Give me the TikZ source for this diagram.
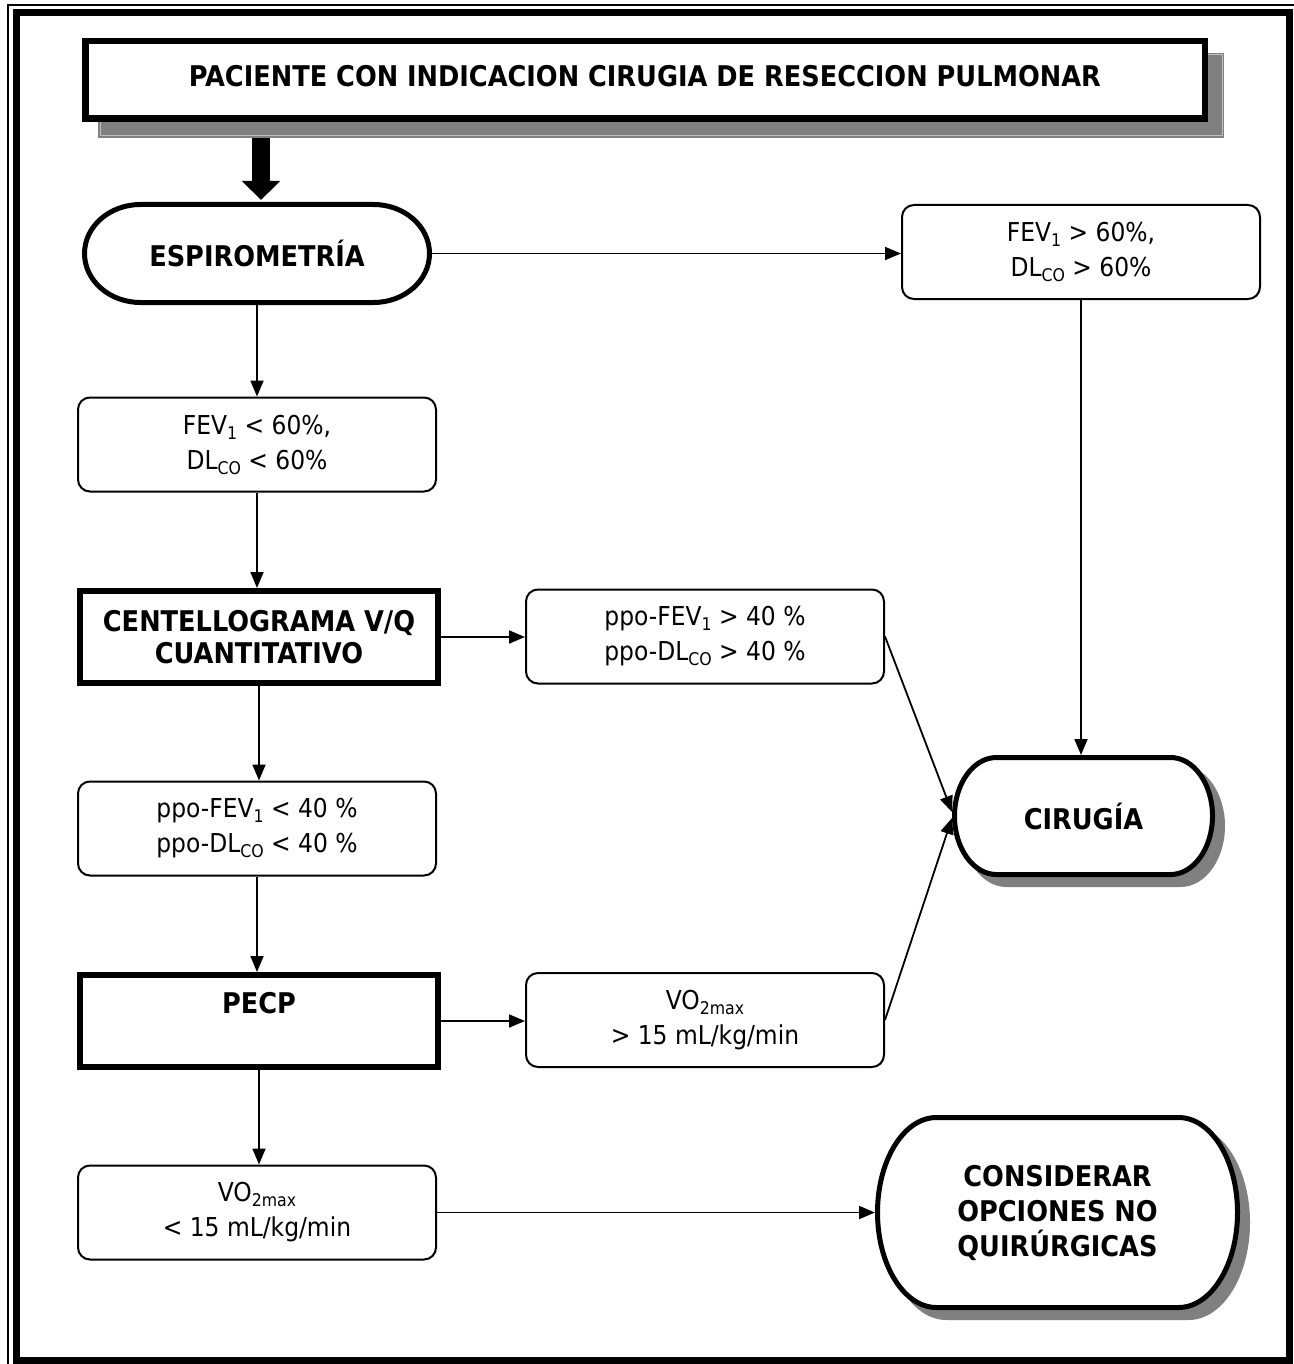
\documentclass[tikz,border=0pt]{standalone}
\usepackage{fontspec}
\setmainfont{DejaVu Sans Condensed}
\usetikzlibrary{arrows.meta}
\newcommand\sbs[1]{\raisebox{-0.35ex}{\fontsize{17.5}{17.5}\selectfont #1}}
% terminator outline: cx, cy, half width, half height, end radius (path centre values)
\newcommand\termpath[5]{(#1-#3+#5,#2-#4) -- (#1+#3-#5,#2-#4) arc[start angle=90,end angle=-90,x radius=#5pt,y radius=#4pt] -- (#1-#3+#5,#2+#4) arc[start angle=270,end angle=90,x radius=#5pt,y radius=#4pt] -- cycle}
\tikzset{
  thinbox/.style={draw, line width=2, rounded corners=12, minimum width=358, minimum height=94, align=center, fill=white, inner sep=0, font=\fontsize{26}{35}\selectfont},
  thickbox/.style={draw, line width=6, minimum width=358, minimum height=92, align=center, fill=white, inner sep=0, font=\bfseries\fontsize{28.5}{32}\selectfont},
  termtext/.style={align=center, inner sep=0, outer sep=0, font=\bfseries\fontsize{28.5}{35}\selectfont},
  termline/.style={draw=black, line width=5, fill=white},
  termshadow/.style={fill=black!50, draw=black!50, line width=5},
  conn/.style={draw, line width=1.8, -{Triangle[length=16pt,width=13pt]}},
}
\begin{document}
\begin{tikzpicture}[x=1pt,y=-1pt]
\useasboundingbox (0,0) rectangle (1293,1364);
% page frame
\draw[line width=1.5] (8,1400) -- (8,5) -- (1400,5);
\draw[line width=7.5] (16.5,12.5) rectangle (1289.5,1360.5);

% title
\node[draw=none, minimum width=1119.5, minimum height=77.5, inner sep=0] (title) at (645,80) {};
\draw[line width=18, -{Triangle[length=19pt,width=37pt]}] ([xshift=4]title.south -| 257,0) -- (261,200) coordinate (tip);
\fill[black!50] (98,53) rectangle (1224,138);
\draw[black!25, line width=1] (100,55) rectangle (1222,136);
\node[draw, line width=6.5, fill=white, minimum width=1119.5, minimum height=77.5, inner sep=0, font=\bfseries\fontsize{28.5}{32}\selectfont] (titlebox) at (645,80) {\raisebox{0pt}[\height][8pt]{PACIENTE CON INDICACION CIRUGIA DE RESECCION PULMONAR}};

% terminators
\path[termline] \termpath{257}{253.5}{172.5}{49}{56};
\node[termtext, minimum width=350, minimum height=103] (espiro) at (257,253.5) {ESPIROMETRÍA};

\path[termshadow] \termpath{1093.5}{826}{129}{58.5}{42};
\path[termline] \termpath{1083.5}{816}{129}{58.5}{42};
\node[termtext, minimum width=263, minimum height=122] (cir) at (1083.5,816) {CIRUGÍA};

\path[termshadow] \termpath{1067.5}{1222.5}{180}{95}{59};
\path[termline] \termpath{1057.5}{1212.5}{180}{95}{59};
\node[termtext, minimum width=365, minimum height=195] (cons) at (1057.5,1212.5) {CONSIDERAR\\OPCIONES NO\\QUIRÚRGICAS};

% rounded boxes
\node[thinbox] (fevG) at (1081,252) {FEV\sbs{1} > 60\%,\\DL\sbs{CO} > 60\%};
\node[thinbox] (fevL) at (257,444.5) {FEV\sbs{1} < 60\%,\\DL\sbs{CO} < 60\%};
\node[thinbox] (ppoG) at (705,636.5) {ppo-FEV\sbs{1} > 40 \%\\ppo-DL\sbs{CO} > 40 \%};
\node[thinbox] (ppoL) at (257,828.5) {ppo-FEV\sbs{1} < 40 \%\\ppo-DL\sbs{CO} < 40 \%};
\node[thinbox] (vo2G) at (705,1020) {VO\sbs{2max}\\> 15 mL/kg/min};
\node[thinbox] (vo2L) at (257,1212.5) {VO\sbs{2max}\\< 15 mL/kg/min};

% square boxes
\node[thickbox] (centel) at (259,637) {CENTELLOGRAMA V/Q\\CUANTITATIVO};
\node[thickbox] (pecp) at (259,1021) {};
\node[termtext, font=\bfseries\fontsize{28.5}{32}\selectfont] (pecpt) at (259,1003) {PECP};

% connectors
\draw[conn] (espiro.east) -- (fevG.west |- espiro.east);
\draw[conn] (espiro.south) -- (fevL.north);
\draw[conn] (fevL.south) -- (centel.north -| fevL.south);
\draw[conn] (centel.east) -- (ppoG.west |- centel.east);
\draw[conn] (centel.south) -- (ppoL.north -| centel.south);
\draw[conn] (ppoL.south) -- (pecp.north -| ppoL.south);
\draw[conn] (pecp.east) -- (vo2G.west |- pecp.east);
\draw[conn] (pecp.south) -- (vo2L.north -| pecp.south);
\draw[conn] (vo2L.east) -- (cons.west);
\draw[conn] (fevG.south) -- (cir.north -| fevG.south);
\draw[conn] (ppoG.east) -- ([yshift=4]cir.west);
\draw[conn] (vo2G.east) -- ([yshift=-2]cir.west);
\end{tikzpicture}
\end{document}
